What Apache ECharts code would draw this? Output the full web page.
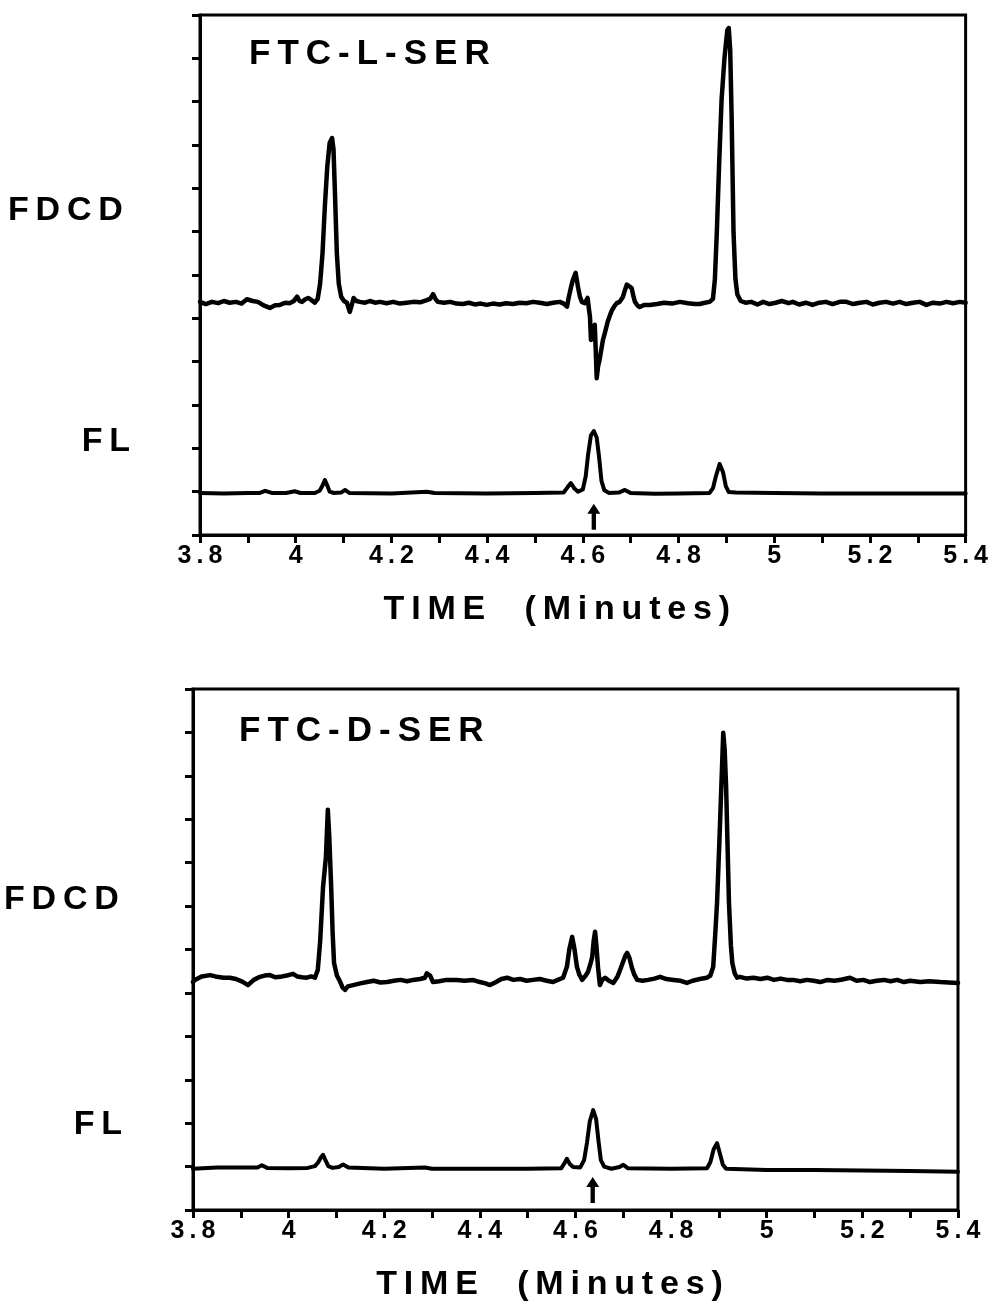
<!DOCTYPE html>
<html>
<head>
<meta charset="utf-8">
<script src="https://cdn.jsdelivr.net/npm/echarts@6/dist/echarts.min.js"></script>
<style>
  html, body { margin: 0; padding: 0; background: #fff; }
  #chart { width: 991px; height: 1308px; }
</style>
</head>
<body>
<div id="chart"></div>
<script>
// panel labels
const panelTitles = ['FTC-L-SER', 'FTC-D-SER']
const traceNames = ['FDCD', 'FL']
const axisTitle = 'TIME  (Minutes)'

// FTC-L-SER, FDCD trace [time, signal]
const fdcdL = [
  [3.800,5.38],[3.812,5.33],[3.825,5.38],[3.838,5.35],[3.850,5.40],[3.862,5.36],[3.875,5.38],[3.887,5.34],
  [3.898,5.44],[3.910,5.40],[3.921,5.38],[3.933,5.30],[3.946,5.24],[3.957,5.30],[3.967,5.31],[3.978,5.36],
  [3.988,5.35],[3.996,5.40],[4.003,5.50],[4.008,5.40],[4.013,5.38],[4.020,5.44],[4.026,5.47],[4.033,5.42],
  [4.040,5.36],[4.046,5.45],[4.051,5.80],[4.056,6.50],[4.061,7.60],[4.066,8.50],[4.071,9.05],[4.076,9.16],
  [4.079,8.90],[4.082,7.90],[4.086,6.50],[4.090,5.80],[4.095,5.50],[4.101,5.40],[4.107,5.36],[4.113,5.15],
  [4.117,5.30],[4.121,5.47],[4.127,5.40],[4.134,5.38],[4.145,5.36],[4.155,5.40],[4.166,5.36],[4.176,5.38],
  [4.190,5.35],[4.204,5.38],[4.218,5.34],[4.232,5.36],[4.246,5.38],[4.260,5.37],[4.274,5.42],[4.281,5.45],
  [4.287,5.56],[4.292,5.45],[4.297,5.38],[4.310,5.36],[4.323,5.38],[4.336,5.34],[4.349,5.33],[4.362,5.36],
  [4.374,5.32],[4.387,5.34],[4.399,5.31],[4.412,5.34],[4.426,5.32],[4.440,5.35],[4.454,5.33],[4.468,5.36],
  [4.482,5.35],[4.496,5.38],[4.510,5.36],[4.525,5.33],[4.538,5.36],[4.552,5.38],[4.560,5.34],[4.567,5.27],
  [4.570,5.45],[4.573,5.49],[4.576,5.75],[4.579,5.88],[4.585,6.05],[4.590,5.72],[4.594,5.50],[4.598,5.38],
  [4.604,5.35],[4.610,5.47],[4.613,5.20],[4.615,5.03],[4.617,4.50],[4.621,4.55],[4.625,4.85],[4.627,4.27],
  [4.629,3.62],[4.632,3.90],[4.635,4.04],[4.639,4.30],[4.642,4.50],[4.646,4.66],[4.652,4.92],[4.657,5.08],
  [4.661,5.19],[4.666,5.28],[4.671,5.35],[4.677,5.38],[4.681,5.35],[4.684,5.50],[4.688,5.65],[4.692,5.78],
  [4.696,5.82],[4.702,5.70],[4.706,5.50],[4.709,5.38],[4.714,5.30],[4.719,5.26],[4.728,5.31],[4.740,5.31],
  [4.755,5.33],[4.770,5.36],[4.786,5.34],[4.803,5.38],[4.820,5.35],[4.834,5.33],[4.844,5.33],[4.855,5.36],
  [4.865,5.38],[4.872,5.45],[4.876,5.90],[4.880,6.97],[4.885,8.60],[4.890,10.04],[4.896,11.00],[4.902,11.65],
  [4.905,11.70],[4.908,11.20],[4.911,9.65],[4.915,6.97],[4.919,5.90],[4.923,5.55],[4.930,5.40],[4.940,5.36],
  [4.952,5.38],[4.965,5.32],[4.977,5.38],[4.990,5.33],[5.003,5.36],[5.016,5.40],[5.030,5.35],[5.039,5.38],
  [5.052,5.32],[5.066,5.36],[5.080,5.31],[5.094,5.36],[5.108,5.38],[5.122,5.33],[5.137,5.38],[5.151,5.38],
  [5.165,5.33],[5.179,5.36],[5.193,5.38],[5.206,5.32],[5.220,5.36],[5.234,5.38],[5.248,5.34],[5.262,5.38],
  [5.276,5.33],[5.290,5.36],[5.304,5.38],[5.318,5.31],[5.332,5.36],[5.346,5.34],[5.360,5.38],[5.374,5.35],
  [5.388,5.38],[5.400,5.36]
]

// FTC-L-SER, FL trace
const flL = [
  [3.800,0.97],[3.850,0.96],[3.900,0.97],[3.925,0.97],[3.936,1.02],[3.950,0.97],[3.980,0.97],[3.998,1.01],
  [4.010,0.97],[4.040,0.97],[4.050,1.02],[4.055,1.12],[4.061,1.27],[4.066,1.14],[4.071,1.00],[4.080,0.97],
  [4.095,0.98],[4.103,1.04],[4.112,0.97],[4.200,0.96],[4.274,1.00],[4.290,0.97],[4.400,0.96],[4.500,0.97],
  [4.560,0.98],[4.568,1.10],[4.575,1.20],[4.582,1.08],[4.590,1.00],[4.600,1.05],[4.606,1.35],[4.611,1.85],
  [4.617,2.30],[4.623,2.40],[4.629,2.25],[4.634,1.80],[4.639,1.25],[4.645,1.03],[4.655,0.97],[4.675,0.98],
  [4.688,1.04],[4.700,0.97],[4.750,0.95],[4.800,0.96],[4.865,0.97],[4.872,1.08],[4.878,1.35],[4.886,1.64],
  [4.893,1.45],[4.899,1.12],[4.905,0.99],[4.920,0.98],[5.000,0.97],[5.100,0.96],[5.200,0.96],[5.300,0.96],
  [5.400,0.96]
]

// FTC-D-SER, FDCD trace
const fdcdD = [
  [3.800,5.25],[3.804,5.30],[3.818,5.38],[3.836,5.41],[3.850,5.37],[3.864,5.35],[3.877,5.35],[3.890,5.32],
  [3.903,5.26],[3.915,5.18],[3.927,5.30],[3.940,5.37],[3.950,5.40],[3.961,5.41],[3.972,5.36],[3.982,5.37],
  [3.996,5.40],[4.009,5.44],[4.018,5.38],[4.028,5.36],[4.038,5.35],[4.047,5.38],[4.055,5.35],[4.061,5.53],
  [4.066,6.20],[4.072,7.44],[4.078,8.13],[4.082,9.22],[4.085,8.60],[4.089,7.44],[4.092,6.40],[4.095,5.69],
  [4.101,5.40],[4.108,5.25],[4.113,5.12],[4.118,5.07],[4.124,5.15],[4.135,5.18],[4.150,5.22],[4.164,5.25],
  [4.178,5.28],[4.192,5.24],[4.206,5.25],[4.220,5.28],[4.234,5.30],[4.248,5.27],[4.260,5.30],[4.275,5.32],
  [4.285,5.35],[4.289,5.45],[4.292,5.48],[4.296,5.40],[4.302,5.25],[4.315,5.27],[4.330,5.30],[4.352,5.30],
  [4.368,5.28],[4.385,5.30],[4.400,5.25],[4.412,5.22],[4.421,5.18],[4.432,5.24],[4.445,5.32],[4.457,5.35],
  [4.470,5.30],[4.484,5.32],[4.498,5.28],[4.511,5.30],[4.525,5.32],[4.540,5.28],[4.553,5.25],[4.563,5.30],
  [4.574,5.35],[4.582,5.60],[4.587,6.00],[4.593,6.29],[4.598,6.00],[4.603,5.60],[4.608,5.42],[4.614,5.30],
  [4.620,5.38],[4.626,5.48],[4.632,5.70],[4.635,5.83],[4.638,6.20],[4.641,6.41],[4.644,6.05],[4.647,5.60],
  [4.651,5.18],[4.656,5.30],[4.662,5.35],[4.670,5.28],[4.679,5.23],[4.688,5.38],[4.694,5.55],[4.699,5.70],
  [4.704,5.85],[4.708,5.92],[4.713,5.80],[4.718,5.58],[4.723,5.42],[4.729,5.30],[4.740,5.28],[4.752,5.30],
  [4.765,5.33],[4.777,5.37],[4.790,5.32],[4.805,5.30],[4.820,5.28],[4.833,5.23],[4.845,5.28],[4.860,5.32],
  [4.875,5.35],[4.882,5.40],[4.888,5.60],[4.892,6.30],[4.896,7.07],[4.901,8.50],[4.905,9.75],[4.909,10.99],
  [4.912,10.60],[4.915,9.75],[4.918,8.40],[4.921,7.07],[4.925,6.10],[4.928,5.69],[4.933,5.45],[4.938,5.35],
  [4.944,5.37],[4.958,5.33],[4.972,5.35],[4.987,5.32],[5.001,5.35],[5.015,5.30],[5.029,5.33],[5.042,5.30],
  [5.055,5.30],[5.070,5.27],[5.084,5.30],[5.098,5.28],[5.112,5.25],[5.127,5.30],[5.142,5.28],[5.158,5.31],
  [5.174,5.35],[5.188,5.28],[5.202,5.30],[5.216,5.25],[5.230,5.28],[5.245,5.30],[5.259,5.27],[5.273,5.30],
  [5.287,5.25],[5.300,5.28],[5.321,5.25],[5.340,5.27],[5.363,5.25],[5.380,5.24],[5.400,5.23]
]

// FTC-D-SER, FL trace
const flD = [
  [3.800,0.95],[3.850,0.98],[3.900,0.98],[3.935,0.98],[3.944,1.03],[3.955,0.97],[4.000,0.96],[4.040,0.97],
  [4.055,1.01],[4.062,1.10],[4.068,1.22],[4.072,1.27],[4.077,1.15],[4.083,1.01],[4.092,0.97],[4.105,0.99],
  [4.114,1.05],[4.125,0.98],[4.200,0.95],[4.285,0.98],[4.300,0.95],[4.400,0.95],[4.500,0.95],[4.570,0.96],
  [4.577,1.08],[4.582,1.18],[4.588,1.06],[4.595,0.99],[4.610,0.98],[4.618,1.15],[4.624,1.55],[4.630,2.05],
  [4.637,2.30],[4.643,2.10],[4.648,1.60],[4.653,1.15],[4.660,1.00],[4.675,0.95],[4.692,0.99],[4.700,1.04],
  [4.710,0.96],[4.800,0.95],[4.875,0.96],[4.882,1.10],[4.889,1.40],[4.896,1.54],[4.902,1.30],[4.908,1.05],
  [4.915,0.95],[5.000,0.92],[5.100,0.92],[5.200,0.91],[5.300,0.90],[5.400,0.88]
]

// where the up-arrow under the FL peak points
const arrowAt = [[4.623, 0.42], [4.636, 0.46]]

const grids = [
  { left: 200, top: 15, width: 766, height: 520 },
  { left: 193, top: 689, width: 765, height: 521 },
]

const font = 'Liberation Sans'
const spaced = (s) => s.split('').join('\u2009')
const arrowPath = 'path://M6,0 L12,10 L8,10 L8,26 L4,26 L4,10 L0,10 Z'

const xAxisFor = (i) => ({
  gridIndex: i,
  type: 'value',
  min: 3.8,
  max: 5.4,
  interval: 0.1,
  axisLine: { lineStyle: { color: '#000', width: 3 } },
  axisTick: { length: 8, lineStyle: { color: '#000', width: 3 } },
  axisLabel: {
    color: '#000',
    fontFamily: font,
    fontWeight: 'bold',
    fontSize: 25,
    margin: 9,
    showMinLabel: true,
    showMaxLabel: true,
    formatter: (v) => {
      const n = Math.round(v * 10)
      return n % 2 === 0 ? spaced(String(n / 10)) : ''
    },
  },
  splitLine: { show: false },
  name: spaced(axisTitle),
  nameLocation: 'middle',
  nameGap: 58,
  nameTextStyle: {
    color: '#000',
    fontFamily: font,
    fontWeight: 'bold',
    fontSize: 34,
    padding: [0, 52, 0, 0],
  },
})

const yAxisFor = (i) => ({
  gridIndex: i,
  type: 'value',
  min: 0,
  max: 12,
  interval: 1,
  axisLine: { show: true, lineStyle: { color: '#000', width: 3 } },
  axisTick: { show: true, length: 8, lineStyle: { color: '#000', width: 3 } },
  axisLabel: { show: false },
  splitLine: { show: false },
})

const trace = (i, data, width, arrow) => ({
  type: 'line',
  xAxisIndex: i,
  yAxisIndex: i,
  data,
  symbol: 'none',
  lineStyle: { color: '#000', width, join: 'round', cap: 'round' },
  silent: true,
  markPoint: arrow ? {
    symbol: arrowPath,
    symbolSize: [13, 26],
    itemStyle: { color: '#000' },
    label: { show: false },
    data: [{ coord: arrow }],
  } : undefined,
})

const sideText = (text, x, y, align) => ({
  type: 'text',
  x,
  y,
  style: {
    text: spaced(text),
    fill: '#000',
    font: `bold 34px "${font}"`,
    textAlign: align,
    textVerticalAlign: 'middle',
  },
})

const titleStyle = { color: '#000', fontFamily: font, fontWeight: 'bold', fontSize: 35 }

const option = {
  animation: false,
  backgroundColor: '#fff',
  title: [
    { text: spaced(panelTitles[0]), left: 244, top: 32, textStyle: titleStyle },
    { text: spaced(panelTitles[1]), left: 234, top: 709, textStyle: titleStyle },
  ],
  grid: grids.map((g) => ({ ...g, show: true, borderColor: '#000', borderWidth: 3, backgroundColor: 'transparent' })),
  xAxis: [xAxisFor(0), xAxisFor(1)],
  yAxis: [yAxisFor(0), yAxisFor(1)],
  series: [
    trace(0, fdcdL, 4.5),
    trace(0, flL, 4, arrowAt[0]),
    trace(1, fdcdD, 4.5),
    trace(1, flD, 4, arrowAt[1]),
  ],
  graphic: [
    sideText(traceNames[0], 8, 211, 'left'),
    sideText(traceNames[1], 130, 442, 'right'),
    sideText(traceNames[0], 4, 900, 'left'),
    sideText(traceNames[1], 122, 1125, 'right'),
  ],
}

const chart = echarts.init(document.getElementById('chart'))
chart.setOption(option)
window.addEventListener('resize', () => chart.resize())
</script>
</body>
</html>
